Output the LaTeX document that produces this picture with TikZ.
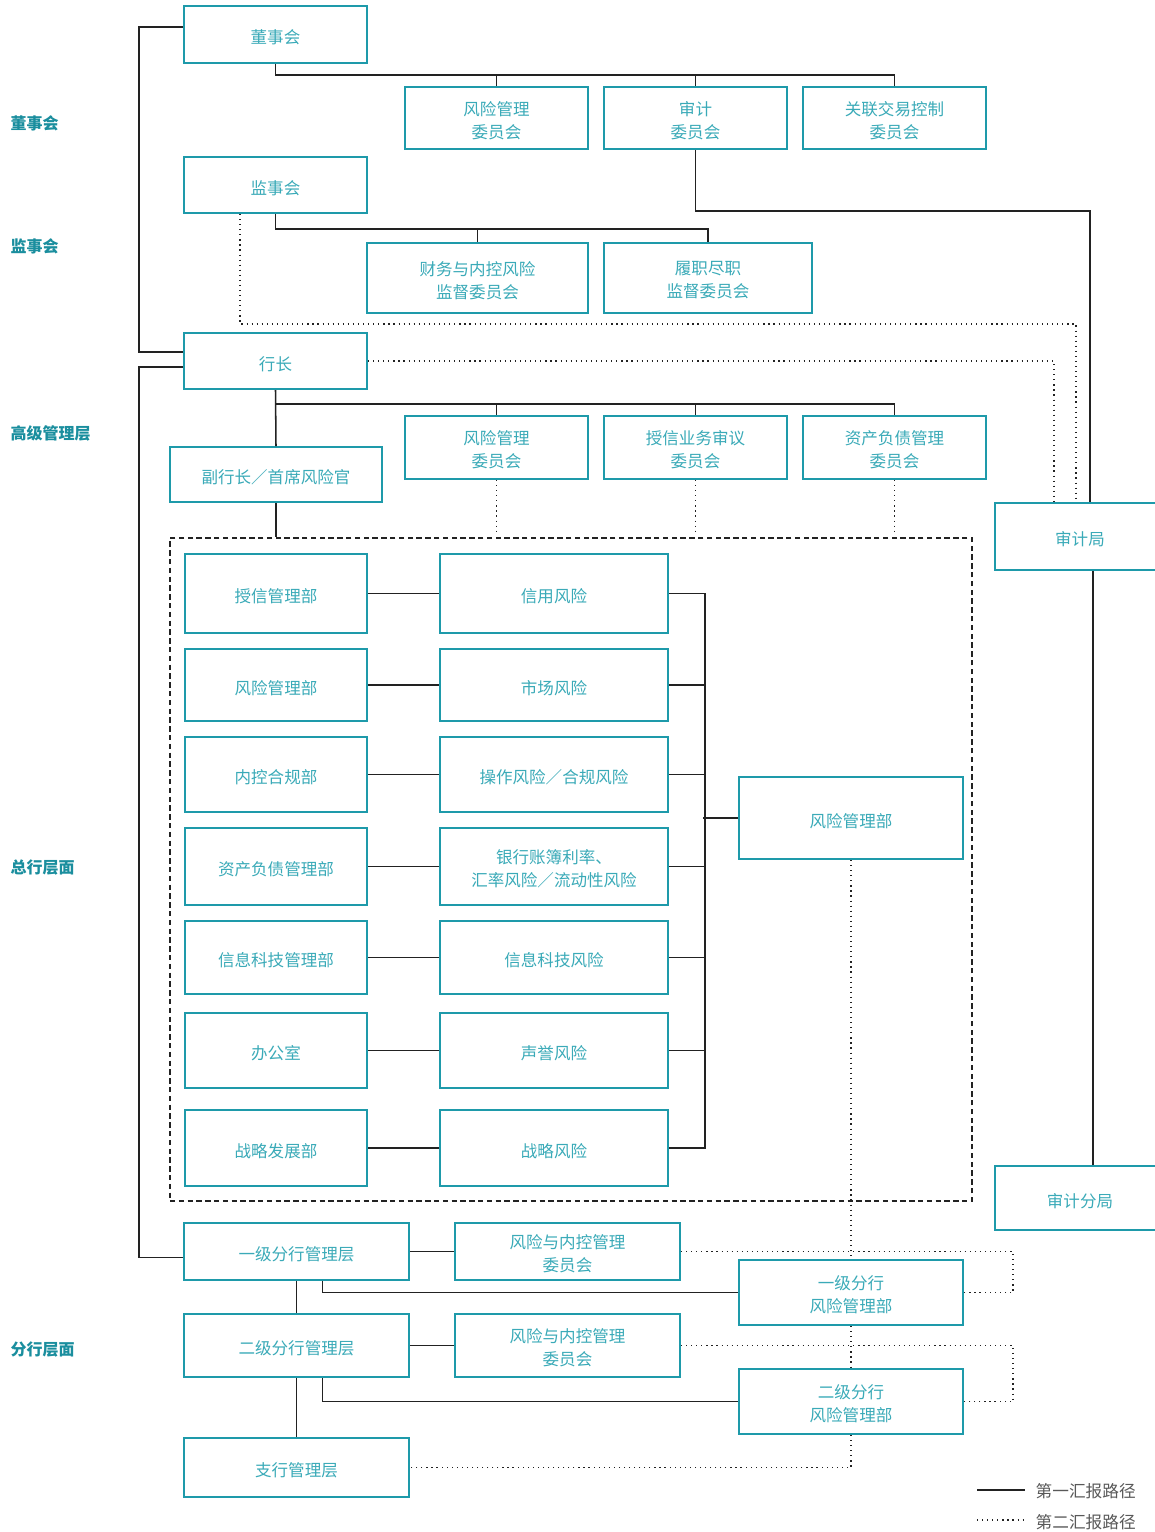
\documentclass[tikz,border=0pt]{standalone}
\usepackage{fontspec}
\setmainfont{Noto Sans CJK SC}
\usetikzlibrary{fit,calc}
\definecolor{tealb}{HTML}{1E9AAA}
\definecolor{tealt}{HTML}{3AAAB8}
\definecolor{teall}{HTML}{1A8E9E}
\definecolor{lnk}{HTML}{222222}
% box with one line of text / with two lines of text
\newcommand\bxa[4]{\node[box,fit={#2 #3}] (#1) {};
  \node[txt,yshift=-2.25pt] (#1-t) at (#1.center) {#4};}
\newcommand\bxb[4]{\node[box,fit={#2 #3}] (#1) {};
  \node[txt,align=center,yshift=-1.8pt] (#1-t) at (#1.center) {#4};}
\begin{document}
\begin{tikzpicture}[x=0.75pt,y=-0.75pt,
  box/.style={draw=tealb,line width=1.5pt,inner sep=0pt},
  txt/.style={text=tealt,inner sep=0pt,font=\fontsize{12.4}{17.4}\selectfont},
  sl/.style={draw=lnk,line width=1.15pt},
  dl/.style={draw=lnk,line width=1pt,dash pattern=on 0.9pt off 2.9pt},
  dbx/.style={draw=lnk,line width=1.1pt,dash pattern=on 4pt off 2.6pt,inner sep=0pt},
  lvl/.style={anchor=west,text=teall,font=\fontsize{12}{14}\selectfont\bfseries},
  leg/.style={anchor=west,text=black!65,font=\fontsize{12.5}{14}\selectfont}]
\useasboundingbox[fill=white] (0,0) rectangle (1155,1532);

% level labels
\node[lvl] (L1) at (6,123) {董事会};
\node[lvl] (L2) at (6,246) {监事会};
\node[lvl] (L3) at (6,433) {高级管理层};
\node[lvl] (L4) at (6,867) {总行层面};
\node[lvl] (L5) at (6,1349) {分行层面};

% board level
\bxa{dsh}{(184,6)}{(367,63)}{董事会}
\bxb{c1}{(405,87)}{(588,149)}{风险管理\\委员会}
\bxb{c2}{(604,87)}{(787,149)}{审计\\委员会}
\bxb{c3}{(803,87)}{(986,149)}{关联交易控制\\委员会}

% supervisory
\bxa{jsh}{(184,157)}{(367,213)}{监事会}
\bxb{s1}{(367,243)}{(588,313)}{财务与内控风险\\监督委员会}
\bxb{s2}{(604,243)}{(812,313)}{履职尽职\\监督委员会}

% senior management
\bxa{hz}{(184,333)}{(367,389)}{行长}
\bxa{fh}{(170,447)}{(382,502)}{副行长／首席风险官}
\bxb{r1}{(405,416)}{(588,479)}{风险管理\\委员会}
\bxb{r2}{(604,416)}{(787,479)}{授信业务审议\\委员会}
\bxb{r3}{(803,416)}{(986,479)}{资产负债管理\\委员会}

% audit
\bxa{sjj}{(995,503)}{(1165,570)}{审计局}
\bxa{sjfj}{(995,1166)}{(1165,1230)}{审计分局}

% head office dashed area
\node[dbx,fit={(170,538)(972,1201)}] (dbox) {};

\bxa{a1}{(185,554)}{(367,633)}{授信管理部}
\bxa{a2}{(185,649)}{(367,721)}{风险管理部}
\bxa{a3}{(185,737)}{(367,812)}{内控合规部}
\bxa{a4}{(185,828)}{(367,905)}{资产负债管理部}
\bxa{a5}{(185,921)}{(367,994)}{信息科技管理部}
\bxa{a6}{(185,1013)}{(367,1088)}{办公室}
\bxa{a7}{(185,1110)}{(367,1186)}{战略发展部}

\bxa{m1}{(440,554)}{(668,633)}{信用风险}
\bxa{m2}{(440,649)}{(668,721)}{市场风险}
\bxa{m3}{(440,737)}{(668,812)}{操作风险／合规风险}
\bxb{m4}{(440,828)}{(668,905)}{银行账簿利率、\\汇率风险／流动性风险}
\bxa{m5}{(440,921)}{(668,994)}{信息科技风险}
\bxa{m6}{(440,1013)}{(668,1088)}{声誉风险}
\bxa{m7}{(440,1110)}{(668,1186)}{战略风险}

\bxa{fxb}{(739,777)}{(963,859)}{风险管理部}

% branch level
\bxa{y1}{(184,1223)}{(409,1280)}{一级分行管理层}
\bxb{cy1}{(455,1223)}{(680,1280)}{风险与内控管理\\委员会}
\bxb{y1r}{(739,1260)}{(963,1325)}{一级分行\\风险管理部}
\bxa{y2}{(184,1314)}{(409,1377)}{二级分行管理层}
\bxb{cy2}{(455,1314)}{(680,1377)}{风险与内控管理\\委员会}
\bxb{y2r}{(739,1369)}{(963,1434)}{二级分行\\风险管理部}
\bxa{zh}{(184,1438)}{(409,1497)}{支行管理层}

% ---- solid connectors ----
\draw[sl] ($(dsh.west)+(0,-7.5)$) -- ++(-44,0) |- ($(hz.west)+(0,-9)$);
\draw[sl] ($(hz.west)+(0,6)$) -- ++(-44,0) |- ($(y1.west)+(0,6)$);

\coordinate (b1) at ($(dsh.south)+(0,11)$);
\draw[sl] (dsh.south) -- (b1) -| (c3.north);
\draw[sl] (b1) -| (c1.north);
\draw[sl] (b1) -| (c2.north);
\draw[sl] (c2.south) -- ++(0,61) -| ($(sjj.north)+(10,0)$);

\coordinate (b2) at ($(jsh.south)+(0,15)$);
\draw[sl] (jsh.south) -- (b2) -| (s2.north);
\draw[sl] (b2) -| (s1.north);

\coordinate (b3) at ($(hz.south)+(0,14)$);
\draw[sl] (hz.south) -- (b3) -| (r3.north);
\draw[sl] (b3) -| (r1.north);
\draw[sl] (b3) -| (r2.north);
\draw[sl] (hz.south) -- (fh.north);
\draw[sl] (fh.south) -- (fh.south |- dbox.north);

\draw[sl] ($(sjj.south)+(13,0)$) -- ($(sjfj.north)+(13,0)$);

\foreach \i in {1,...,7}{\draw[sl] (a\i.east) -- (m\i.east -| m\i.west);}
\foreach \i in {2,...,6}{\draw[sl] (m\i.east) -- ++(36,0);}
\draw[sl] (m1.east) -- ++(36,0) |- (m7.east);
\draw[sl] (fxb.west) -- ++(-35,0);

\draw[sl] (y1.east) -- (cy1.west);
\draw[sl] ($(y1.south)+(26,0)$) |- (y1r.west);
\draw[sl] (y1.south) -- (y2.north);
\draw[sl] (y2.east) -- (cy2.west);
\draw[sl] ($(y2.south)+(26,0)$) |- (y2r.west);
\draw[sl] (y2.south) -- (zh.north);

% ---- dotted connectors ----
\draw[dl] ($(jsh.south)+(-35.5,0)$) -- ++(0,110) -| ($(sjj.north)+(-4,0)$);
\draw[dl] (hz.east) -| ($(sjj.north)+(-26,0)$);
\draw[dl] (r1.south) -- ($(r1.south |- dbox.north)+(0,-3)$);
\draw[dl] (r2.south) -- ($(r2.south |- dbox.north)+(0,-3)$);
\draw[dl] (r3.south) -- ($(r3.south |- dbox.north)+(0,-3)$);
\draw[dl] (fxb.south) -- (y1r.north);
\draw[dl] (cy1.east) -- ++(332,0) |- (y1r.east);
\draw[dl] (cy2.east) -- ++(332,0) |- (y2r.east);
\draw[dl] (y1r.south) -- (y2r.north);
\draw[dl] (y2r.south) |- (zh.east);

% legend
\coordinate (l1a) at (977,1490); \coordinate (l1b) at (1025,1490);
\coordinate (l2a) at (977,1520); \coordinate (l2b) at (1025,1520);
\draw[draw=lnk,line width=1.8pt] (l1a) -- (l1b);
\draw[dl] (l2a) -- (l2b);
\node[leg] (t1) at (1031,1491) {第一汇报路径};
\node[leg] (t2) at (1031,1522) {第二汇报路径};
\end{tikzpicture}
\end{document}
